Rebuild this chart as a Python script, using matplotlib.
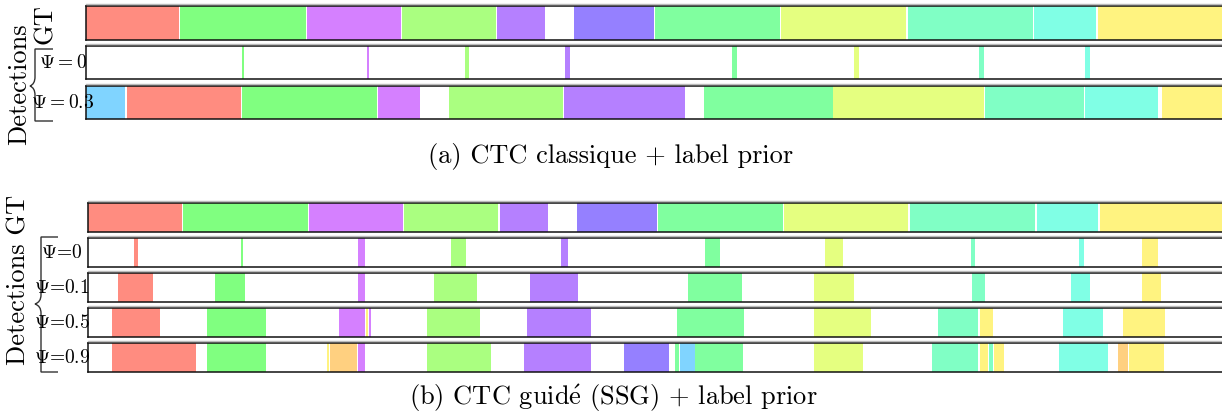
import matplotlib
matplotlib.use("Agg")
import matplotlib.pyplot as plt
from matplotlib.path import Path
from matplotlib.patches import PathPatch
from matplotlib.lines import Line2D
from matplotlib.transforms import Affine2D

# ── Palette (one colour per character class) ─────────────────────────────────
COLORS = {
    "red":     "#FF8C80",
    "green":   "#80FF80",
    "magenta": "#D580FF",
    "lgreen":  "#AAFF80",
    "purple":  "#B580FF",
    "violet":  "#9580FF",
    "mint":    "#80FF9F",
    "ygreen":  "#E5FF80",
    "mint2":   "#80FFC5",
    "cyan":    "#80FFE5",
    "yellow":  "#FFF380",
    "lblue":   "#80D4FF",
    "orange":  "#FFD080",
}

# ── Data: (start, end, class) segments, in frames ────────────────────────────
GT = [
    (0, 93.5, "red"), (94.5, 220, "green"), (221, 315, "magenta"),
    (316, 410, "lgreen"), (411.5, 459.5, "purple"), (488.5, 568.5, "violet"),
    (569.5, 694.5, "mint"), (695.5, 820, "ygreen"), (822, 947, "mint2"),
    (948.5, 1010, "cyan"), (1012, 1150, "yellow"),
]

# (a) CTC classique
A_PSI_0 = [
    (156, 158, "green"), (281, 283, "magenta"), (379, 383, "lgreen"),
    (479, 484, "purple"), (646, 651, "mint"), (768, 773, "ygreen"),
    (893, 898, "mint2"), (999, 1004, "cyan"),
]
A_PSI_03 = [
    (0, 39.3, "lblue"), (41.3, 155.3, "red"), (156, 291.3, "green"),
    (292.3, 334.3, "magenta"), (363.3, 477.3, "lgreen"), (478.3, 599.3, "purple"),
    (618.3, 747.3, "mint"), (747.3, 898.3, "ygreen"), (899.3, 998.3, "mint2"),
    (999.3, 1072.3, "cyan"), (1076.3, 1150, "yellow"),
]

# (b) CTC guidé (SSG)
B_PSI_0 = [
    (46, 50, "red"), (153, 155, "green"), (270, 277, "magenta"),
    (363, 378, "lgreen"), (473, 480, "purple"), (617, 632, "mint"),
    (737, 755, "ygreen"), (883, 887, "mint2"), (991, 996, "cyan"),
    (1054, 1070, "yellow"),
]
B_PSI_01 = [
    (30, 65, "red"), (127, 157, "green"), (270, 277, "magenta"),
    (346, 389, "lgreen"), (442, 490, "purple"), (600, 654, "mint"),
    (726, 766, "ygreen"), (884, 897, "mint2"), (983, 1002, "cyan"),
    (1054, 1073, "yellow"),
]
B_PSI_05 = [
    (24, 72, "red"), (119, 178, "green"), (251, 277, "magenta"),
    (278, 280, "yellow"), (281, 283, "magenta"), (339, 392, "lgreen"),
    (439, 503, "purple"), (589, 656, "mint"), (726, 783, "ygreen"),
    (850, 890, "mint2"), (892, 905, "yellow"), (975, 1015, "cyan"),
    (1035, 1077, "yellow"),
]
B_PSI_09 = [
    (24, 108, "red"), (119, 178, "green"), (239, 241, "yellow"),
    (242, 269, "orange"), (270, 277, "magenta"), (339, 403, "lgreen"),
    (436, 503, "purple"), (536, 581, "violet"), (587, 591, "mint"),
    (592, 607, "lblue"), (607, 655, "mint"), (726, 775, "ygreen"),
    (844, 890, "mint2"), (892, 900, "yellow"), (901, 905, "mint2"),
    (906, 916, "yellow"), (971, 1020, "cyan"), (1030, 1040, "orange"),
    (1041, 1076, "yellow"),
]

A_LABELS = [r"$\Psi = 0$", r"$\Psi = 0.3$"]
B_LABELS = [r"$\Psi$=0", r"$\Psi$=0.1", r"$\Psi$=0.5", r"$\Psi$=0.9"]

W, H = 1222, 414
plt.rcParams["font.family"] = ["cmr10", "DejaVu Serif"]
plt.rcParams["mathtext.fontset"] = "cm"

fig = plt.figure(figsize=(W / 100, H / 100), dpi=100)
fig.patch.set_facecolor("white")
PX = Affine2D().scale(1 / W, -1 / H).translate(0, 1) + fig.transFigure


def _row(left, top, bottom, segments, right=1228):
    ax = fig.add_axes([left / W, 1 - bottom / H, (right - left) / W, (bottom - top) / H])
    for s, e, c in segments:
        ax.barh(0, e - s, left=s, height=1, color=COLORS[c], linewidth=0)
    ax.set_xlim(0, right - left)
    ax.set_ylim(-0.5, 0.5)
    ax.set_xticks([])
    ax.set_yticks([])
    for sp in ax.spines.values():
        sp.set_linewidth(1.1)
        sp.set_color("#111111")
    # faint grey rule just above the frame, as in the original export
    fig.lines.append(Line2D([left, right], [top - 1.6, top - 1.6], transform=PX,
                            color="#BBBBBB", linewidth=1.0))
    return ax


def _brace(x_vert, x_tip, x_arm, y_top, y_mid, y_bot):
    verts = [
        (x_arm, y_top), (x_vert, y_top), (x_vert, y_mid - 9),
        (x_vert, y_mid - 2), (x_tip, y_mid),
        (x_vert, y_mid + 2), (x_vert, y_mid + 9),
        (x_vert, y_bot), (x_arm, y_bot),
    ]
    codes = [Path.MOVETO, Path.LINETO, Path.LINETO,
             Path.CURVE3, Path.CURVE3, Path.CURVE3, Path.CURVE3,
             Path.LINETO, Path.LINETO]
    fig.patches.append(PathPatch(Path(verts, codes), transform=PX, fill=False,
                                 edgecolor="#333333", linewidth=1.0))


def _text(x, y, s, **kw):
    fig.text(x, y, s, transform=PX, **kw)


# ── (a) ───────────────────────────────────────────────────────────────────────
_row(85.7, 7, 40.7, GT)
_row(85.7, 47, 80.3, A_PSI_0)
_row(85.7, 87, 120.3, A_PSI_03)
for lbl, yc in zip(A_LABELS, [63.5, 103.5]):
    _text(63, yc, lbl, fontsize=14, ha="center", va="center")
_text(45, 24, "GT", fontsize=19, rotation=90, ha="center", va="center")
_text(19, 84, "Detections", fontsize=19, rotation=90, ha="center", va="center")
_brace(35, 30, 53, 50, 87, 122)
_text(611, 157, "(a) CTC classique + label prior", fontsize=19, ha="center", va="center")

# ── (b) ───────────────────────────────────────────────────────────────────────
_row(88.3, 204, 233, GT)
b_rows = [B_PSI_0, B_PSI_01, B_PSI_05, B_PSI_09]
for i, (segs, lbl) in enumerate(zip(b_rows, B_LABELS)):
    top = 239 + 35 * i
    _row(88.3, top, top + 29, segs)
    _text(62, top + 14.5, lbl, fontsize=14, ha="center", va="center")
_text(19, 280, "Detections GT", fontsize=19, rotation=90, ha="center", va="center")
_brace(41, 35, 58, 238, 305, 373)
_text(613, 398, r"(b) CTC guid$\mathrm{\acute{e}}$ (SSG) + label prior",
      fontsize=19, ha="center", va="center")

fig.savefig("out.png", dpi=100)
